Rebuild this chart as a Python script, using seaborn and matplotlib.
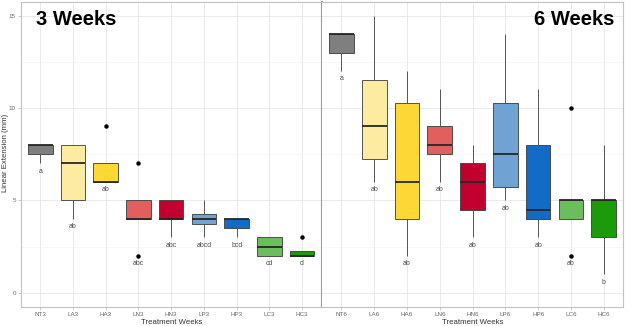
import numpy as np
import pandas as pd
import matplotlib
matplotlib.use("Agg")
import matplotlib.pyplot as plt
import seaborn as sns

# treatments and colours (shared by both time points)
treatments = ["NT", "LA", "HA", "LN", "HN", "LP", "HP", "LC", "HC"]
box_colors = ["#7f7f7f", "#fdeba2", "#fdd835", "#e35e5e", "#c1002f",
              "#70a3d4", "#136bc8", "#6bbd5e", "#1b9a0a"]

# linear extension (mm) per treatment, 3 weeks
week3_values = [
    [7, 8, 8],
    [4, 5, 7, 8, 8],
    [6, 6, 6, 7, 9],
    [2, 4, 4, 5, 7],
    [3, 4, 4, 5, 5],
    [3, 4, 4, 5],
    [3, 4, 4],
    [2, 2, 3, 3],
    [2, 2, 2, 3],
]
week3_letters = ["a", "ab", "ab", "abc", "abc", "abcd", "bcd", "cd", "d"]

# linear extension (mm) per treatment, 6 weeks
week6_values = [
    [12, 14, 14],
    [6, 7, 8, 10, 12, 15],
    [2, 4, 4, 8, 11, 12],
    [6, 7, 8, 8, 9, 9, 11],
    [3, 4, 5, 6, 7, 7, 8],
    [5, 6, 9, 14],
    [3, 4, 4, 5, 9, 11],
    [2, 4, 5, 5, 10],
    [1, 3, 5, 5, 8],
]
week6_letters = ["a", "ab", "ab", "ab", "ab", "ab", "ab", "ab", "b"]

plt.rcParams["font.family"] = ["Liberation Sans", "DejaVu Sans"]

fig = plt.figure(figsize=(6.42, 3.26), dpi=100)
ax1 = fig.add_axes([0.0322, 0.0592, 0.4690, 0.9356])
ax2 = fig.add_axes([0.5012, 0.0592, 0.4698, 0.9356])


def panel(ax, values, letters, week, title, title_x, title_ha):
    names = [t + str(week) for t in treatments]
    rows = []
    for n, vals in zip(names, values):
        for v in vals:
            rows.append({"group": n, "value": v})
    df = pd.DataFrame(rows)
    sns.boxplot(data=df, x="group", y="value", hue="group", order=names,
                hue_order=names, palette=dict(zip(names, box_colors)),
                saturation=1, width=0.75, legend=False, showcaps=False,
                linecolor="#3a3a3a", linewidth=0.6, ax=ax,
                medianprops={"color": "#262626", "linewidth": 1.3},
                whiskerprops={"color": "#555555", "linewidth": 0.7},
                flierprops={"marker": "o", "markerfacecolor": "black",
                            "markeredgecolor": "black", "markersize": 2.2})
    # significance letters under each box
    for i, (vals, lab) in enumerate(zip(values, letters)):
        ax.text(i, min(vals) - 0.42, lab, ha="center", va="center",
                fontsize=5, color="#4d4d4d")
    ax.set_xlim(-0.6, 8.6)
    ax.set_ylim(-0.75, 15.75)
    ax.set_yticks([0, 5, 10, 15])
    ax.set_yticks([2.5, 7.5, 12.5], minor=True)
    ax.grid(True, which="major", color="#e6e6e6", linewidth=0.6)
    ax.grid(True, which="minor", axis="y", color="#f2f2f2", linewidth=0.4)
    ax.set_axisbelow(True)
    ax.set_xlabel("Treatment Weeks", fontsize=5.6, color="#333333", labelpad=1.5)
    ax.set_ylabel("")
    ax.tick_params(axis="both", which="major", labelsize=4.5, labelcolor="#666666",
                   color="#b3b3b3", length=2, width=0.5, pad=1.5)
    ax.tick_params(axis="y", which="minor", length=0)
    for s in ax.spines.values():
        s.set_color("#c2c2c2")
        s.set_linewidth(0.8)
    ax.text(title_x, 0.941, title, transform=ax.transAxes, ha=title_ha,
            va="center", fontsize=14.5, fontweight="bold", color="black")


panel(ax1, week3_values, week3_letters, 3, "3 Weeks", 0.05, "left")
panel(ax2, week6_values, week6_letters, 6, "6 Weeks", 0.969, "right")

fig.text(5.5 / 642, 0.5 + 0.03, "Linear Extension (mm)", rotation=90,
         ha="center", va="center", fontsize=5.6, color="#333333")
ax2.tick_params(axis="y", which="both", left=False, labelleft=False)
ax1.spines["right"].set_color("#9a9a9a")
ax1.spines["right"].set_linewidth(1.5)
ax2.spines["left"].set_visible(False)

fig.savefig("out.png", dpi=100)
